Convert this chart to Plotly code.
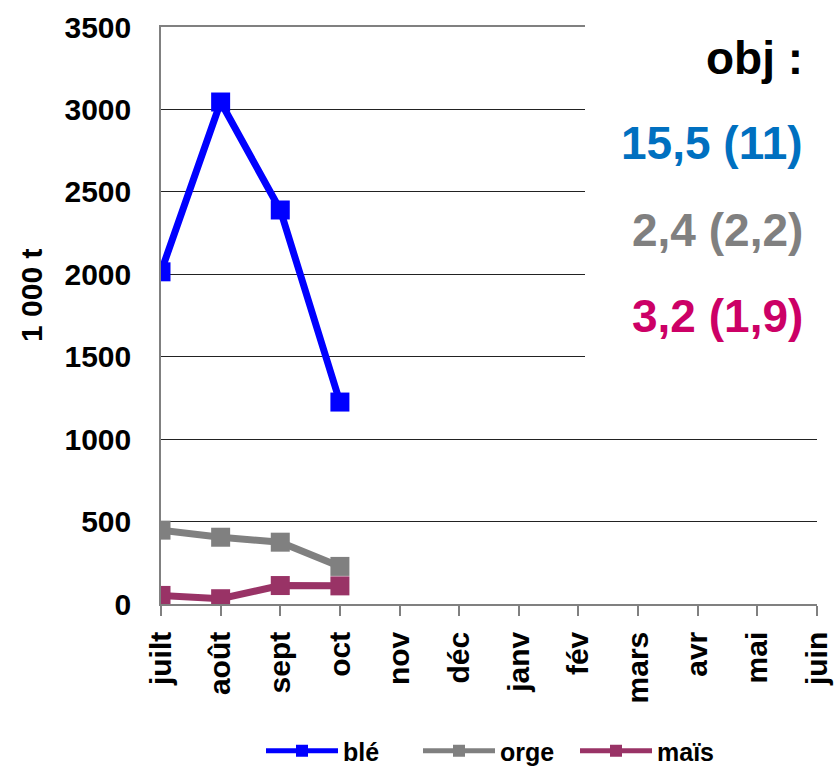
import plotly.graph_objects as go

months = ["juilt", "août", "sept", "oct", "nov", "déc", "janv", "fév", "mars", "avr", "mai", "juin"]
obs_months = ["juilt", "août", "sept", "oct"]
ble = [2015, 3045, 2390, 1225]
orge = [448, 405, 375, 228]
mais = [52, 32, 112, 110]

series_names = ["blé", "orge", "maïs"]
series_colors = ["#0000FF", "#808080", "#993366"]

obj_texts = ["obj :", "15,5 (11)", "2,4 (2,2)", "3,2 (1,9)"]
obj_colors = ["#000000", "#0070C0", "#808080", "#CC0066"]

FONT = "Liberation Sans, Arial, sans-serif"
W, H = 834, 769
L, R, T, B = 161, 17, 27, 165
pw, ph = W - L - R, H - T - B

fig = go.Figure()
for name, vals, col in zip(series_names, [ble, orge, mais], series_colors):
    fig.add_trace(go.Scatter(
        x=obs_months, y=vals, name=name, mode="lines+markers",
        line=dict(color=col, width=7),
        marker=dict(symbol="square", size=19, color=col),
    ))

fig.update_layout(
    width=W, height=H,
    margin=dict(l=L, r=R, t=T, b=B, autoexpand=False),
    paper_bgcolor="white", plot_bgcolor="white",
    font=dict(family=FONT, color="black", weight="bold"),
    showlegend=True,
    legend=dict(orientation="h", x=(261 - L) / pw, xanchor="left", y=(604 - 751) / ph, yanchor="middle",
                font=dict(size=25, family=FONT, weight="bold"), itemwidth=72,
                entrywidth=70, entrywidthmode="pixels", itemsizing="constant",
                bgcolor="rgba(0,0,0,0)", tracegroupgap=0),
    xaxis=dict(type="category", categoryorder="array", categoryarray=months,
               range=[0, 11], showgrid=False, zeroline=False, automargin=False,
               showline=True, linecolor="#808080", linewidth=1.5, mirror=True,
               ticks="outside", ticklen=10, tickcolor="#808080", tickwidth=1.5,
               tickangle=-90, tickfont=dict(size=30, family=FONT, weight="bold"),
               ticklabelstandoff=4),
    yaxis=dict(range=[0, 3500], dtick=500, tick0=0, showgrid=True, automargin=False,
               gridcolor="#222222", gridwidth=1, zeroline=False,
               showline=True, linecolor="#808080", linewidth=1.5,
               ticks="", tickfont=dict(size=30, family=FONT, weight="bold"),
               ticklabelstandoff=22),
)

# white box behind the objective texts (covers gridlines there)
fig.add_shape(type="rect", xref="paper", yref="paper",
              x0=(585 - L) / pw, x1=(W - L) / pw + 0.01,
              y0=(604 - 362) / ph, y1=1.05,
              fillcolor="white", line=dict(width=0), layer="above")

centers = [58, 143, 230, 316]
for txt, col, cy in zip(obj_texts, obj_colors, centers):
    fig.add_annotation(xref="paper", yref="paper",
                       x=(805 - L) / pw, xanchor="right",
                       y=(604 - cy) / ph, yanchor="middle",
                       text=txt, showarrow=False,
                       font=dict(size=46, color=col, family=FONT, weight="bold"))

fig.add_annotation(xref="paper", yref="paper", x=(31 - L) / pw, y=(604 - 296) / ph,
                   xanchor="center", yanchor="middle", textangle=-90,
                   text="1 000 t", showarrow=False,
                   font=dict(size=30, family=FONT, weight="bold", color="black"))

fig.write_html("out.html", config={"displayModeBar": False},
               post_script="document.body.style.margin='0';document.body.style.overflow='hidden';")
